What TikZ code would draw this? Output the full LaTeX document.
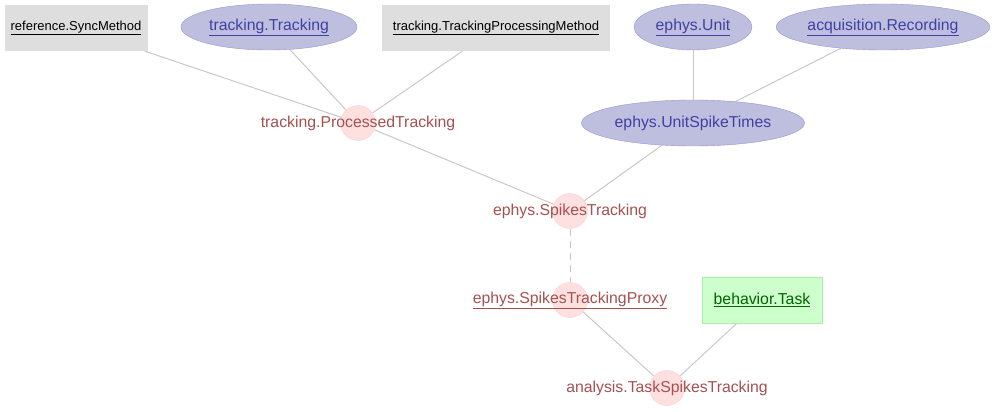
\documentclass[tikz,border=0pt]{standalone}
\usepackage{fontspec}
\setmainfont{Liberation Sans}
\usepackage{xcolor}
\usetikzlibrary{shapes.geometric,backgrounds}

\definecolor{edgegrey}{RGB}{200,200,200}
\definecolor{lookupfill}{RGB}{222,222,222}
\definecolor{manualfill}{RGB}{204,255,204}
\definecolor{manualline}{RGB}{170,238,170}
\definecolor{manualtext}{RGB}{0,100,0}
\definecolor{importfill}{RGB}{190,191,223}
\definecolor{importline}{RGB}{150,150,206}
\definecolor{importtext}{RGB}{64,64,164}
\definecolor{compfill}{RGB}{255,224,224}
\definecolor{compline}{RGB}{255,204,204}
\definecolor{comptext}{RGB}{166,80,80}

\begin{document}
\begin{tikzpicture}[
  x=1pt,y=-1pt,
  lookup/.style={rectangle,fill=lookupfill,minimum height=46pt,inner sep=0pt,
    font=\fontsize{13}{15}\selectfont},
  manual/.style={rectangle,draw=manualline,fill=manualfill,minimum height=46pt,inner sep=0pt,
    text=manualtext,font=\fontsize{15.8}{18}\selectfont},
  imported/.style={ellipse,draw=importline,fill=importfill,minimum height=46pt,inner sep=0pt,
    text=importtext,font=\fontsize{15.8}{18}\selectfont},
  computed/.style={circle,draw=compline,fill=compfill,minimum size=35pt,inner sep=0pt},
  comptext/.style={text=comptext,font=\fontsize{15.8}{18}\selectfont},
  link/.style={draw=edgegrey,line width=1pt},
  part/.style={link,dash pattern=on 7pt off 5pt}
]
\useasboundingbox (0,0) rectangle (999,412);

% top row
\node[lookup,minimum width=143pt] (syncmethod) at (76,28) {\underline{reference.SyncMethod}};
\node[imported,minimum width=176pt] (tracking) at (269,27) {\underline{tracking.Tracking}};
\node[lookup,minimum width=228pt] (procmethod) at (496,28) {\underline{tracking.TrackingProcessingMethod}};
\node[imported,minimum width=118pt] (unit) at (693,27) {\underline{ephys.Unit}};
\node[imported,minimum width=213pt] (recording) at (883,27) {\underline{acquisition.Recording}};

% middle
\node[computed,label={[comptext]center:tracking.ProcessedTracking}] (processed) at (358,123) {};
\node[imported,minimum width=223pt] (spiketimes) at (693,123) {ephys.UnitSpikeTimes};
\node[computed,label={[comptext]center:ephys.SpikesTracking}] (spikestracking) at (570,211) {};

% bottom
\node[computed,label={[comptext]center:\underline{ephys.SpikesTrackingProxy}}] (proxy) at (570,300) {};
\node[manual,minimum width=120pt] (task) at (762,300) {\underline{behavior.Task}};
\node[computed,label={[comptext]center:analysis.TaskSpikesTracking}] (taskspikes) at (667,388) {};

\begin{pgfonlayer}{background}
\draw[link] (syncmethod) -- (processed);
\draw[link] (tracking) -- (processed);
\draw[link] (procmethod) -- (processed);
\draw[link] (unit) -- (spiketimes);
\draw[link] (recording) -- (spiketimes);
\draw[link] (processed) -- (spikestracking);
\draw[link] (spiketimes) -- (spikestracking);
\draw[part] (spikestracking) -- (proxy);
\draw[link] (proxy) -- (taskspikes);
\draw[link] (task) -- (taskspikes);
\end{pgfonlayer}
\end{tikzpicture}
\end{document}
